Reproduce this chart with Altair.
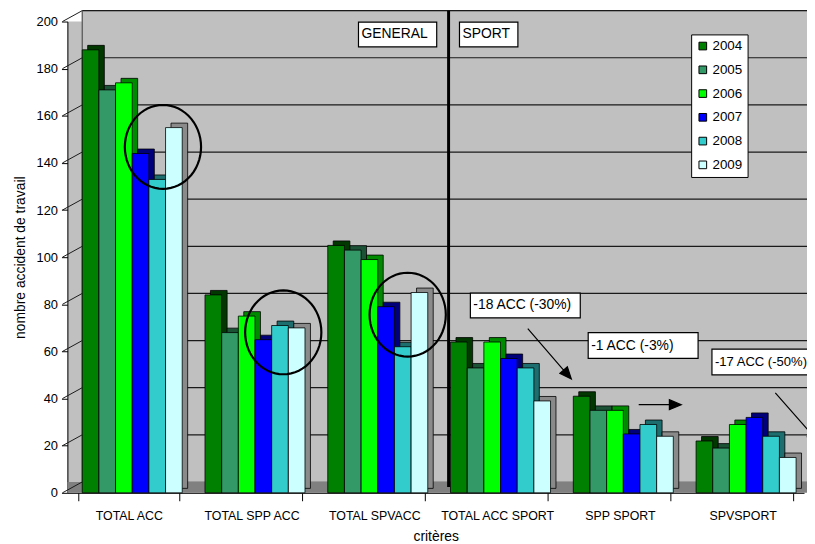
import math
import altair as alt
import pandas as pd

FONT = "Liberation Sans"

categories = ["TOTAL ACC", "TOTAL SPP ACC", "TOTAL SPVACC", "TOTAL ACC SPORT", "SPP SPORT", "SPVSPORT"]
years = ["2004", "2005", "2006", "2007", "2008", "2009"]

total_acc = [188, 171, 174, 144, 133, 155]
total_spp_acc = [84, 68, 75, 65, 71, 70]
total_spv_acc = [105, 103, 99, 79, 62, 85]
total_acc_sport = [64, 53, 64, 57, 53, 39]
spp_sport = [41, 35, 35, 25, 29, 24]
spv_sport = [22, 19, 29, 32, 24, 15]

y_ticks = [0, 20, 40, 60, 80, 100, 120, 140, 160, 180, 200]

front_colors = ["#008000", "#339966", "#00FF00", "#0000FF", "#33CCCC", "#CCFFFF"]
side_colors = ["#003800", "#1B5236", "#008A00", "#00007A", "#1D6E6E", "#8A8A8A"]

series = [total_acc, total_spp_acc, total_spv_acc, total_acc_sport, spp_sport, spv_sport]
rows = []
for cat, vals in zip(categories, series):
    for yr, v in zip(years, vals):
        rows.append({"critere": cat, "annee": yr, "valeur": v})
df = pd.DataFrame(rows)

W, H = 744, 476
DEPTH_X, DEPTH_Y = 15, 11

x_scale = alt.Scale(domain=categories, paddingInner=0.185, paddingOuter=0.0925)
y_scale = alt.Scale(domain=[0, 200], nice=False, zero=True)

X_AXIS = alt.Axis(title="critères", labelAngle=0, tickBand="extent", tickSize=8,
                  labelPadding=9, domainColor="black", tickColor="black",
                  labelFont=FONT, labelFontSize=12.5, labelColor="black",
                  titleFont=FONT, titleFontSize=14, titleFontWeight="normal",
                  titleColor="black", titlePadding=8, grid=False)
Y_AXIS = alt.Axis(values=y_ticks, title="nombre accident de travail", grid=False,
                  tickSize=6, labelPadding=4, domainColor="black", tickColor="black",
                  labelFont=FONT, labelFontSize=13, labelColor="black",
                  titleFont=FONT, titleFontSize=14, titleFontWeight="normal",
                  titleColor="black", titlePadding=9)


def XD(cat):
    return alt.X(datum=cat, scale=x_scale, axis=X_AXIS)


def YD(v):
    return alt.Y(datum=v, scale=y_scale, axis=Y_AXIS)


one = pd.DataFrame({"a": [0]})
ticks_df = pd.DataFrame({"v": y_ticks})

# --- background pieces -------------------------------------------------------
back_wall = alt.Chart(one).mark_rect(
    fill="#C0C0C0", stroke="#808080", strokeWidth=1, yOffset=-DEPTH_Y, y2Offset=-DEPTH_Y
).encode(x=alt.value(DEPTH_X), x2=alt.value(W + 20), y=YD(200), y2=alt.datum(0))

floor = alt.Chart(one).mark_rect(fill="#808080", yOffset=-DEPTH_Y).encode(
    x=alt.value(0), x2=alt.value(W + 20), y=YD(0), y2=alt.datum(0))

grid = alt.Chart(ticks_df[ticks_df.v > 0]).mark_rule(
    color="#1a1a1a", strokeWidth=1.2, yOffset=-DEPTH_Y
).encode(x=alt.value(DEPTH_X), x2=alt.value(W + 20),
         y=alt.Y("v:Q", scale=y_scale, axis=Y_AXIS))

slants = alt.Chart(ticks_df).mark_rule(color="#1a1a1a", strokeWidth=1, y2Offset=-DEPTH_Y).encode(
    x=alt.value(-5), x2=alt.value(DEPTH_X),
    y=alt.Y("v:Q", scale=y_scale, axis=Y_AXIS), y2="v:Q")

left_wall = alt.Chart(one).mark_rule(
    color="#555555", strokeWidth=1, yOffset=-DEPTH_Y, y2Offset=-DEPTH_Y
).encode(x=alt.value(DEPTH_X), y=YD(200), y2=alt.datum(0))

# --- bars --------------------------------------------------------------------
bars_side = alt.Chart(df).mark_bar(
    stroke="black", strokeWidth=0.8, yOffset=-4.5, y2Offset=-4.5
).encode(
    x=alt.X("critere:N", sort=categories, scale=x_scale, axis=X_AXIS),
    xOffset=alt.XOffset("annee:N", sort=years, scale=alt.Scale(range=[9, 110])),
    y=alt.Y("valeur:Q", scale=y_scale, axis=Y_AXIS),
    color=alt.Color("annee:N", scale=alt.Scale(domain=years, range=side_colors), legend=None),
)

bars = alt.Chart(df).mark_bar(stroke="black", strokeWidth=0.8).encode(
    x=alt.X("critere:N", sort=categories, scale=x_scale, axis=X_AXIS),
    xOffset=alt.XOffset("annee:N", sort=years, scale=alt.Scale(range=[3.5, 104.5])),
    y=alt.Y("valeur:Q", scale=y_scale, axis=Y_AXIS),
    color=alt.Color("annee:N", scale=alt.Scale(domain=years, range=front_colors),
                    legend=alt.Legend(orient="none", legendX=630, legendY=13, title=None,
                                      fillColor="white", strokeColor="black", padding=5,
                                      symbolType="square", symbolSize=60,
                                      symbolStrokeColor="black", symbolStrokeWidth=1,
                                      labelFont=FONT, labelFontSize=13.5, labelColor="black",
                                      rowPadding=9, labelOffset=3)),
)

# --- separator ---------------------------------------------------------------
separator = alt.Chart(one).mark_rule(
    color="black", strokeWidth=3, xOffset=-49, yOffset=-DEPTH_Y, y2Offset=-6
).encode(x=XD("TOTAL ACC SPORT"), y=YD(200), y2=alt.datum(0))


# --- annotation shapes -------------------------------------------------------
def rect_path(w, h):
    r = h / w
    return f"M-1,{-r}L1,{-r}L1,{r}L-1,{r}Z"


def ellipse_path(ry_ratio, n=60):
    pts = []
    for i in range(n):
        t = 2 * math.pi * i / n
        pts.append(f"{math.cos(t):.4f},{ry_ratio * math.sin(t):.4f}")
    return "M" + "L".join(pts) + "Z"


def arrow_path(dx, dy, s, head=12, half=5):
    L = math.hypot(dx, dy)
    ux, uy = dx / L, dy / L
    px, py = -uy, ux
    x0, y0 = -dx / 2 / s, -dy / 2 / s
    x1, y1 = dx / 2 / s, dy / 2 / s
    bx, by = x1 - head * ux / s, y1 - head * uy / s
    c1 = (bx + half * px / s, by + half * py / s)
    c2 = (bx - half * px / s, by - half * py / s)
    return (f"M{x0:.4f},{y0:.4f}L{x1:.4f},{y1:.4f}"
            f"M{x1:.4f},{y1:.4f}L{c1[0]:.4f},{c1[1]:.4f}L{c2[0]:.4f},{c2[1]:.4f}Z")


def shape_at(cat, value, dx, shape, size, fill=None, stroke="black", sw=1.0):
    props = dict(shape=shape, size=size, stroke=stroke, strokeWidth=sw, xOffset=dx, opacity=1)
    if fill is None:
        props.update(filled=False)
    else:
        props.update(filled=True, fill=fill, fillOpacity=1)
    return alt.Chart(one).mark_point(**props).encode(x=XD(cat), y=YD(value))


def text_at(cat, value, dx, txt, size):
    return alt.Chart(one).mark_text(
        text=txt, align="left", baseline="middle", font=FONT, fontSize=size, color="black", dx=dx
    ).encode(x=XD(cat), y=YD(value))


layers = [back_wall, floor, grid, slants, left_wall, separator, bars_side, bars]

for cat, v, dx in [("TOTAL ACC", 146.8, 34.5), ("TOTAL SPP ACC", 68.1, 32), ("TOTAL SPVACC", 75.6, 33.7)]:
    layers.append(shape_at(cat, v, dx, ellipse_path(1.1), (2 * 38.5) ** 2, stroke="black", sw=2.2))

boxes = [
    ("TOTAL SPVACC", 194.5, 23.5, 79, 25, "GENERAL", 14),
    ("TOTAL ACC SPORT", 194.5, -8.5, 59, 25, "SPORT", 14),
    ("TOTAL ACC SPORT", 79.5, 28.5, 111, 25, "-18 ACC (-30%)", 14),
    ("SPP SPORT", 62.5, 23.5, 111, 26, "-1 ACC (-3%)", 14),
    ("SPVSPORT", 55.5, 27, 116, 26, "-17 ACC (-50%)", 13.2),
]
for cat, v, dx, w, h, txt, fs in boxes:
    layers.append(shape_at(cat, v, dx, rect_path(w, h), w ** 2, fill="white", stroke="black", sw=1.2))
    layers.append(text_at(cat, v, dx - w / 2 + 3, txt, fs))

for cat, v, dx, vx, vy in [("TOTAL ACC SPORT", 59.0, 53, 44, 51), ("SPP SPORT", 37.4, 40.5, 43, 0),
                           ("SPVSPORT", 31.9, 55, 44, 50)]:
    s = 30
    layers.append(shape_at(cat, v, dx, arrow_path(vx, vy, s), (2 * s) ** 2, fill="black", stroke="black", sw=1.2))

chart = alt.layer(*layers).resolve_scale(color="independent", xOffset="independent").properties(
    width=W, height=H,
    autosize=alt.AutoSizeParams(type="none"),
    padding={"left": 60, "top": 11, "right": 3, "bottom": 48},
).configure_view(fill="#C0C0C0", stroke=None)

chart.save("out.html", embed_options={"renderer": "svg", "actions": False})
